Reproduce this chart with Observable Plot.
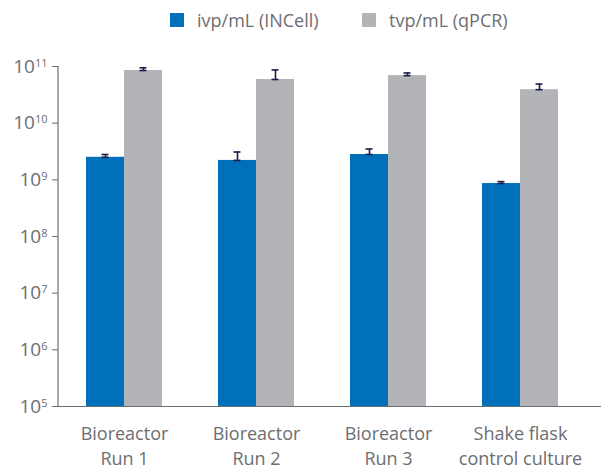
<!DOCTYPE html>
<html><head><meta charset="utf-8">
<script src="https://cdn.jsdelivr.net/npm/d3@7"></script>
<script src="https://cdn.jsdelivr.net/npm/@observablehq/plot@0.6"></script>
<style>
body{margin:0;background:#fff;font-family:"Open Sans",sans-serif;}
#legend{height:40px;position:relative;color:#6d6e71;font-size:18px;}
.item{position:absolute;top:8px;display:flex;align-items:center;white-space:nowrap;}
.sw{width:14px;height:14px;margin-right:13px;display:inline-block;}
</style></head><body>
<div id="legend"></div><div id="chart"></div>
<script>
const categories = ["Bioreactor\nRun 1", "Bioreactor\nRun 2", "Bioreactor\nRun 3", "Shake flask\ncontrol culture"];
const series = ["ivp/mL (INCell)", "tvp/mL (qPCR)"];
const ivp = [2.5e9, 2.2e9, 2.8e9, 8.6e8];
const ivpErr = [0.3e9, 0.9e9, 0.7e9, 0.7e8];
const tvp = [8.5e10, 5.9e10, 6.9e10, 3.9e10];
const tvpErr = [1.0e10, 2.8e10, 0.8e10, 1.0e10];
const yTicks = [1e5, 1e6, 1e7, 1e8, 1e9, 1e10, 1e11];
const colors = ["#0070ba", "#b3b4b7"];

const W = 601, H = 432, mL = 58, mR = 0, mT = 26, mB = 66;
const pIn = 0.425, pOut = 0.266, align = 0.40;
const step = (W - mL - mR) / (categories.length - pIn + 2 * pOut);
const bw = step * (1 - pIn);
const half = bw / 2, cap = 3.5;

const data = categories.map((c, i) => ({c, ivp: ivp[i], ivpErr: ivpErr[i], tvp: tvp[i], tvpErr: tvpErr[i]}));
const errColor = "#1c1c4c";

const plot = Plot.plot({
  width: W, height: H,
  marginLeft: mL, marginRight: mR, marginTop: mT, marginBottom: mB,
  style: {fontFamily: '"Open Sans", sans-serif', background: "#fff"},
  x: {type: "band", domain: categories, paddingInner: pIn, paddingOuter: pOut, align: align, label: null},
  y: {type: "log", domain: [1e5, 1e11], label: null},
  marks: [
    Plot.barY(data, {x: "c", y1: () => 1e5, y2: "ivp", fill: colors[0], insetRight: half}),
    Plot.barY(data, {x: "c", y1: () => 1e5, y2: "tvp", fill: colors[1], insetLeft: half}),
    Plot.ruleX(data, {x: "c", y1: "ivp", y2: d => d.ivp + d.ivpErr, dx: -half / 2, stroke: errColor, strokeWidth: 1.6}),
    Plot.ruleX(data, {x: "c", y1: "tvp", y2: d => d.tvp + d.tvpErr, dx: half / 2, stroke: errColor, strokeWidth: 1.6}),
    Plot.tickY(data, {x: "c", y: "ivp", insetLeft: half / 2 - cap, insetRight: bw - half / 2 - cap, stroke: errColor, strokeWidth: 1.6}),
    Plot.tickY(data, {x: "c", y: d => d.ivp + d.ivpErr, insetLeft: half / 2 - cap, insetRight: bw - half / 2 - cap, stroke: errColor, strokeWidth: 1.6}),
    Plot.tickY(data, {x: "c", y: "tvp", insetLeft: half + half / 2 - cap, insetRight: half / 2 - cap, stroke: errColor, strokeWidth: 1.6}),
    Plot.tickY(data, {x: "c", y: d => d.tvp + d.tvpErr, insetLeft: half + half / 2 - cap, insetRight: half / 2 - cap, stroke: errColor, strokeWidth: 1.6}),
    Plot.axisY({ticks: yTicks, tickFormat: d => "10^" + Math.round(Math.log10(d)), tickSize: 6, tickPadding: 5, fontSize: 19, color: "#6d6e71", stroke: "#6d6e71", label: null}),
    Plot.axisX({tickSize: 0, tickPadding: 15, fontSize: 18, lineHeight: 1.42, color: "#6d6e71", label: null}),
    Plot.ruleY([1e5], {stroke: "#6d6e71", strokeWidth: 1.2})
  ]
});
document.getElementById("chart").appendChild(plot);

// vertical axis line
d3.select(plot).append("line")
  .attr("x1", mL).attr("x2", mL)
  .attr("y1", H - mB).attr("y2", mT)
  .attr("stroke", "#6d6e71").attr("stroke-width", 1.2);

// superscripts
d3.select(plot).selectAll('g[aria-label="y-axis tick label"] text').each(function() {
  const m = this.textContent.match(/^10\^(\d+)$/);
  if (m) {
    const s = d3.select(this);
    s.text("10");
    s.append("tspan").attr("dy", "-0.55em").attr("font-size", "11px").text(m[1]);
  }
});

// legend
const lg = d3.select("#legend");
const lx = [170, 362];
series.forEach((s, i) => {
  const it = lg.append("div").attr("class", "item").style("left", lx[i] + "px");
  it.append("span").attr("class", "sw").style("background", colors[i]);
  it.append("span").text(s);
});
</script>
</body></html>
